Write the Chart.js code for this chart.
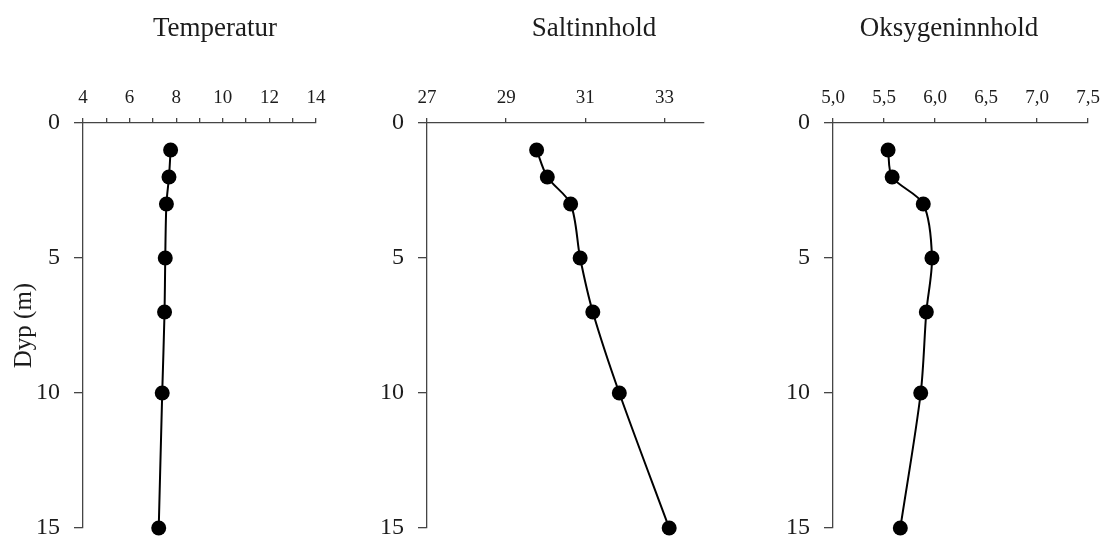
<!DOCTYPE html>
<html>
<head>
<meta charset="utf-8">
<script src="https://cdn.jsdelivr.net/npm/chart.js@4"></script>
<style>
  html, body { margin: 0; padding: 0; background: #fff; overflow: hidden; width: 1105px; height: 541px; }
  canvas { position: absolute; top: 0; }
</style>
</head>
<body>
<canvas id="tempChart" width="430" height="541" style="left:0px"></canvas>
<canvas id="saltChart" width="430" height="541" style="left:379px"></canvas>
<canvas id="oxyChart" width="322" height="541" style="left:783px"></canvas>
<script>
// depth of each sample (m)
const depths = [1, 2, 3, 5, 7, 10, 15]

const temperature = [7.76, 7.69, 7.58, 7.53, 7.5, 7.4, 7.25]
const salinity = [29.77, 30.04, 30.63, 30.87, 31.19, 31.86, 33.12]
const oxygen = [5.54, 5.58, 5.885, 5.97, 5.915, 5.86, 5.66]

const depthTicks = [0, 5, 10, 15]
const tempTicks = [4, 5, 6, 7, 8, 9, 10, 11, 12, 13, 14]
const tempLabels = [4, 6, 8, 10, 12, 14]
const saltTicks = [27, 29, 31, 33]
const oxyTicks = [5.0, 5.5, 6.0, 6.5, 7.0, 7.5]

const axisColor = '#454545'
const textColor = '#1c1c1c'
const serif = "'Liberation Serif', 'Times New Roman', serif"

Chart.defaults.animation = false

// panel heading, centred where the original chart object put it (not over the plot area)
const panelTitle = {
  id: 'panelTitle',
  afterDraw(chart, args, o) {
    const ctx = chart.ctx
    ctx.save()
    ctx.font = `27px ${serif}`
    ctx.fillStyle = textColor
    ctx.textAlign = 'center'
    ctx.textBaseline = 'alphabetic'
    ctx.fillText(o.text, o.x, o.y)
    ctx.restore()
  }
}

const makeProfile = (id, title, values, opts) => {
  const points = depths.map((d, i) => ({ x: values[i], y: d }))

  return new Chart(document.getElementById(id), {
    type: 'scatter',
    plugins: [panelTitle],
    data: {
      datasets: [
        {
          data: points,
          showLine: true,
          tension: 0.3,
          borderColor: '#000',
          borderWidth: 2,
          backgroundColor: '#000',
          pointRadius: 7.5,
          pointHoverRadius: 7.5,
          pointBorderWidth: 0,
          clip: false
        }
      ]
    },
    options: {
      responsive: false,
      events: [],
      layout: { padding: { top: 0, left: 0, right: opts.padRight, bottom: 13 } },
      plugins: {
        legend: { display: false },
        tooltip: { enabled: false },
        title: { display: false },
        panelTitle: { text: title, x: opts.titleX, y: 36 }
      },
      scales: {
        x: {
          type: 'linear',
          position: 'top',
          min: opts.min,
          max: opts.max,
          afterBuildTicks: (axis) => { axis.ticks = opts.ticks.map((v) => ({ value: v })) },
          afterFit: (scale) => {
            scale.height = 123
            scale.paddingLeft = 0
            scale.paddingRight = 0
          },
          grid: { drawOnChartArea: false, drawTicks: true, tickLength: 5, tickColor: axisColor, lineWidth: 1.3 },
          border: { display: true, color: axisColor, width: 1.3 },
          ticks: {
            autoSkip: false,
            maxRotation: 0,
            padding: 9,
            color: textColor,
            font: { family: serif, size: 19 },
            callback: opts.label
          }
        },
        y: {
          type: 'linear',
          reverse: true,
          min: 0,
          max: 15,
          afterBuildTicks: (axis) => { axis.ticks = depthTicks.map((v) => ({ value: v })) },
          afterFit: (scale) => {
            scale.width = opts.yWidth
            scale.paddingTop = 0
            scale.paddingBottom = 0
          },
          grid: { drawOnChartArea: false, drawTicks: true, tickLength: 9, tickColor: axisColor, lineWidth: 1.3 },
          border: { display: true, color: axisColor, width: 1.3 },
          ticks: {
            padding: 14,
            color: textColor,
            font: { family: serif, size: 24 }
          },
          title: {
            display: !!opts.yTitle,
            text: opts.yTitle || '',
            color: textColor,
            font: { family: serif, size: 25 },
            padding: { top: 9, bottom: 0 }
          }
        }
      }
    }
  })
}

makeProfile('tempChart', 'Temperatur', temperature, {
  min: 4,
  max: 14,
  ticks: tempTicks,
  label: (v) => tempLabels.includes(v) ? String(v) : '',
  yWidth: 83,
  padRight: 114,
  titleX: 215,
  yTitle: 'Dyp (m)'
})

makeProfile('saltChart', 'Saltinnhold', salinity, {
  min: 27,
  max: 34,
  ticks: saltTicks,
  label: (v) => String(v),
  yWidth: 48,
  padRight: 105,
  titleX: 215
})

makeProfile('oxyChart', 'Oksygeninnhold', oxygen, {
  min: 5,
  max: 7.5,
  ticks: oxyTicks,
  label: (v) => v.toFixed(1).replace('.', ','),
  yWidth: 50,
  padRight: 17,
  titleX: 166
})
</script>
</body>
</html>
